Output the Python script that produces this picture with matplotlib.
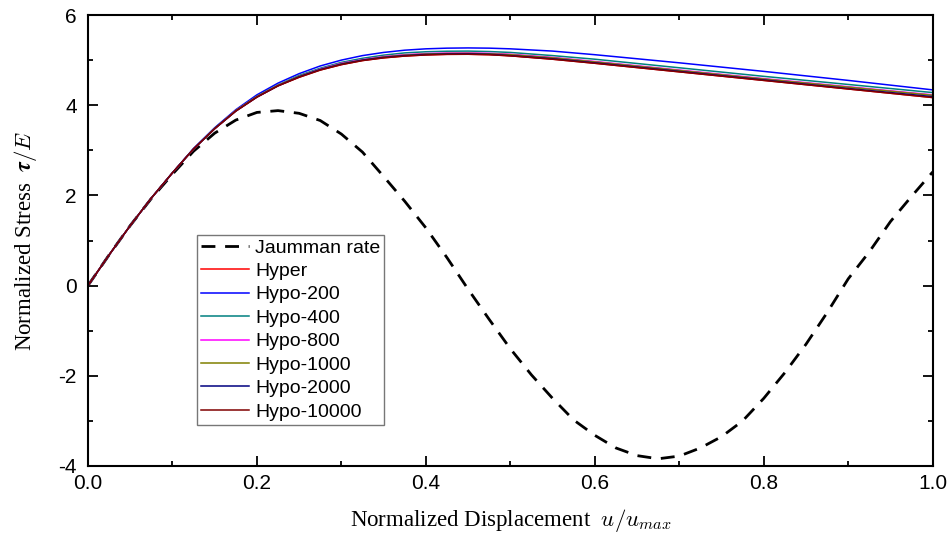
import matplotlib
matplotlib.use('Agg')
import matplotlib.pyplot as plt
from matplotlib.ticker import MultipleLocator

plt.rcParams['mathtext.fontset'] = 'cm'
plt.rcParams['axes.unicode_minus'] = False

# normalized displacement for the hyper / hypo curves
x = [0, 0.025, 0.05, 0.075, 0.1, 0.125, 0.15, 0.175, 0.2, 0.225, 0.25, 0.275,
     0.3, 0.325, 0.35, 0.375, 0.4, 0.425, 0.45, 0.475, 0.5, 0.55, 0.6, 0.65,
     0.7, 0.75, 0.8, 0.85, 0.9, 0.95, 1.0]

hyper = [0, 0.68, 1.33, 1.94, 2.5, 3.03, 3.48, 3.87, 4.18, 4.43, 4.62, 4.78,
         4.9, 4.99, 5.05, 5.09, 5.115, 5.128, 5.13, 5.12, 5.095, 5.02, 4.93, 4.835,
         4.74, 4.645, 4.55, 4.455, 4.36, 4.265, 4.17]
hypo200 = [0, 0.68, 1.33, 1.94, 2.5, 3.04, 3.5, 3.9, 4.23, 4.49, 4.7, 4.87,
           5.0, 5.1, 5.17, 5.22, 5.25, 5.265, 5.27, 5.265, 5.25, 5.2, 5.12, 5.03,
           4.94, 4.845, 4.75, 4.65, 4.55, 4.445, 4.34]
hypo400 = [0, 0.68, 1.33, 1.94, 2.5, 3.03, 3.49, 3.88, 4.2, 4.45, 4.66, 4.82,
           4.95, 5.04, 5.11, 5.16, 5.185, 5.197, 5.2, 5.19, 5.17, 5.1, 5.02, 4.925,
           4.83, 4.735, 4.64, 4.55, 4.46, 4.37, 4.28]
hypo800 = [0, 0.68, 1.33, 1.94, 2.5, 3.03, 3.48, 3.88, 4.19, 4.44, 4.64, 4.8,
           4.93, 5.01, 5.08, 5.12, 5.145, 5.157, 5.16, 5.15, 5.13, 5.06, 4.97, 4.875,
           4.78, 4.685, 4.59, 4.5, 4.41, 4.32, 4.23]
hypo1000 = [0, 0.68, 1.33, 1.94, 2.5, 3.03, 3.48, 3.88, 4.19, 4.44, 4.64, 4.79,
            4.92, 5.0, 5.07, 5.11, 5.135, 5.147, 5.15, 5.14, 5.12, 5.05, 4.96, 4.865,
            4.77, 4.675, 4.58, 4.49, 4.4, 4.31, 4.22]
hypo2000 = [0, 0.68, 1.33, 1.94, 2.5, 3.03, 3.48, 3.87, 4.18, 4.43, 4.63, 4.79,
            4.91, 5.0, 5.06, 5.1, 5.125, 5.137, 5.14, 5.13, 5.1, 5.03, 4.94, 4.845,
            4.75, 4.655, 4.56, 4.465, 4.37, 4.28, 4.19]
hypo10000 = [0, 0.68, 1.33, 1.94, 2.5, 3.03, 3.48, 3.87, 4.18, 4.43, 4.62, 4.78,
             4.9, 4.99, 5.05, 5.09, 5.115, 5.128, 5.13, 5.12, 5.095, 5.02, 4.93, 4.835,
             4.74, 4.645, 4.55, 4.455, 4.36, 4.265, 4.17]

# Jaumann rate curve
jx = [0, 0.025, 0.05, 0.075, 0.1, 0.125, 0.15, 0.175, 0.2, 0.225, 0.25, 0.275,
      0.3, 0.325, 0.35, 0.375, 0.4, 0.425, 0.45, 0.475, 0.5, 0.525, 0.55, 0.575,
      0.6, 0.625, 0.65, 0.675, 0.7, 0.725, 0.75, 0.775, 0.8, 0.825, 0.85, 0.875,
      0.9, 0.925, 0.95, 0.975, 1.0]
jaumann = [0, 0.68, 1.33, 1.93, 2.47, 2.98, 3.38, 3.67, 3.84, 3.88, 3.82, 3.66,
           3.36, 2.96, 2.42, 1.87, 1.28, 0.62, -0.08, -0.75, -1.4, -1.98, -2.5, -2.98,
           -3.32, -3.6, -3.77, -3.84, -3.78, -3.6, -3.35, -3.0, -2.5, -1.93, -1.3, -0.6,
           0.15, 0.75, 1.42, 1.98, 2.52]

labels = ['Hyper', 'Hypo-200', 'Hypo-400', 'Hypo-800', 'Hypo-1000', 'Hypo-2000', 'Hypo-10000']
colors = ['#FF0000', '#0000FF', '#008080', '#FF00FF', '#808000', '#000080', '#800000']
series = [hyper, hypo200, hypo400, hypo800, hypo1000, hypo2000, hypo10000]

fig = plt.figure(figsize=(9.53, 5.36), dpi=100)
ax = fig.add_axes([0.0923, 0.1306, 0.8864, 0.8414])

ax.plot(jx, jaumann, color='black', lw=2, linestyle=(0, (5, 3.5)), label='Jaumman rate')
for ys, c, lab in zip(series, colors, labels):
    ax.plot(x, ys, color=c, lw=1.1, label=lab)

ax.set_xlim(0, 1)
ax.set_ylim(-4, 6)
ax.xaxis.set_major_locator(MultipleLocator(0.2))
ax.xaxis.set_minor_locator(MultipleLocator(0.1))
ax.yaxis.set_major_locator(MultipleLocator(2))
ax.yaxis.set_minor_locator(MultipleLocator(1))
ax.tick_params(which='both', direction='in', top=True, right=True, width=1.3)
ax.tick_params(which='major', length=7, labelsize=15)
ax.tick_params(axis='x', which='major', pad=6)
ax.tick_params(axis='y', which='major', pad=8)
ax.tick_params(which='minor', length=3.5)
for lab in ax.get_xticklabels() + ax.get_yticklabels():
    lab.set_family('Liberation Sans')
for sp in ax.spines.values():
    sp.set_linewidth(1.5)

ax.set_xlabel(r'Normalized Displacement  $u/u_{max}$', family='Liberation Serif', fontsize=16.5, labelpad=10)
ax.set_ylabel(r'Normalized Stress  $\boldsymbol{\tau}/E$', family='Liberation Serif', fontsize=16.5, labelpad=14)

leg = ax.legend(loc='upper left', bbox_to_anchor=(0.129, 0.512), fancybox=False, edgecolor='#555555',
                prop={'family': 'Liberation Sans', 'size': 14}, handlelength=2.5,
                labelspacing=0.3, borderpad=0.2, handletextpad=0.3, borderaxespad=0)
leg.get_frame().set_linewidth(1.0)

fig.savefig('out.png', dpi=100)
